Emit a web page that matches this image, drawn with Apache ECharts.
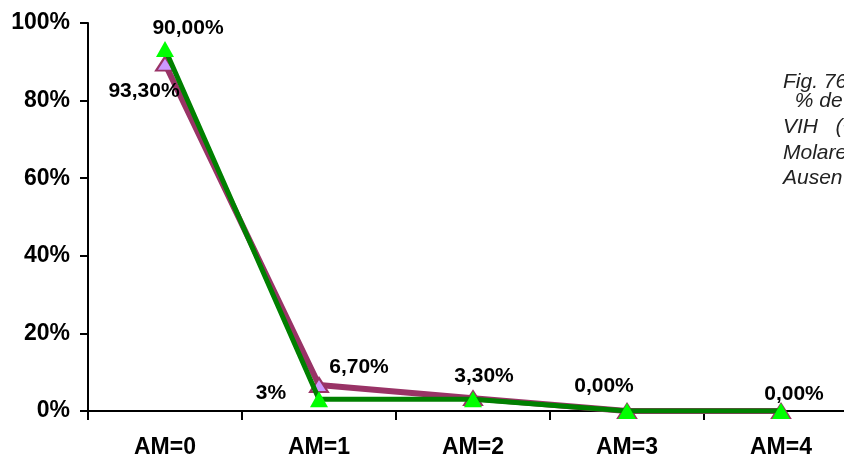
<!DOCTYPE html>
<html>
<head>
<meta charset="utf-8">
<script src="https://cdn.jsdelivr.net/npm/echarts@6/dist/echarts.min.js"></script>
<style>html,body{margin:0;padding:0;background:#fff;overflow:hidden;width:844px;height:459px}#c{width:860px;height:459px}</style>
</head>
<body>
<div id="c"></div>
<script>
var categories = ["AM=0", "AM=1", "AM=2", "AM=3", "AM=4"];
var purpleValues = [89.5, 6.7, 3.3, 0, 0];
var greenValues = [93.3, 3, 3, 0, 0];
var purpleLabels = ["93,30%", "6,70%", "3,30%", "", "0,00%"];
var greenLabels = ["90,00%", "3%", "", "0,00%", ""];
var yTicks = [0, 20, 40, 60, 80, 100];
var captionLines = ["Fig. 76", " % de", "VIH   (+", "Molares", "Ausen"];

// label offsets (layout only)
var purpleOffsets = [[-21, 27], [40, -18], [11, -22], [0, 0], [13, -17]];
var greenOffsets = [[23, -21], [-48, -6], [0, 0], [-23, -25], [0, 0]];

function build(values, labels, offsets) {
  return values.map(function (v, i) {
    return {
      value: v,
      label: {
        show: labels[i] !== "",
        position: "inside",
        offset: offsets[i],
        formatter: labels[i]
      }
    };
  });
}

var labelStyle = {
  color: "#000",
  fontFamily: "Liberation Sans, Arial, sans-serif",
  fontWeight: "bold",
  fontSize: 21,
  textBorderWidth: 0
};

var chart = echarts.init(document.getElementById("c"), null, {renderer: "canvas"});
var capY = [84, 103, 129, 155, 180];
var capX = [783, 789, 783, 783, 783];
chart.setOption({
  animation: false,
  backgroundColor: "#fff",
  grid: {left: 88, top: 23, bottom: 47, right: 2, containLabel: false},
  xAxis: {
    type: "category",
    data: categories,
    boundaryGap: true,
    axisLine: {lineStyle: {color: "#000", width: 2}},
    axisTick: {show: true, length: 9, lineStyle: {color: "#000", width: 2}},
    axisLabel: {
      color: "#000", fontFamily: "Liberation Sans, Arial, sans-serif",
      fontWeight: "bold", fontSize: 23, margin: 25
    },
    splitLine: {show: false}
  },
  yAxis: {
    type: "value",
    min: yTicks[0],
    max: yTicks[yTicks.length - 1],
    interval: 20,
    axisLine: {show: true, lineStyle: {color: "#000", width: 2}},
    axisTick: {show: true, length: 8, lineStyle: {color: "#000", width: 2}},
    axisLabel: {
      color: "#000", fontFamily: "Liberation Sans, Arial, sans-serif",
      fontWeight: "bold", fontSize: 23, margin: 18,
      formatter: "{value}%"
    },
    splitLine: {show: false}
  },
  series: [
    {
      type: "line",
      data: build(purpleValues, purpleLabels, purpleOffsets),
      lineStyle: {color: "#993366", width: 6},
      symbol: "triangle",
      symbolSize: [18, 14],
      itemStyle: {color: "#CC99FF", borderColor: "#993366", borderWidth: 2},
      label: labelStyle,
      z: 2
    },
    {
      type: "line",
      data: build(greenValues, greenLabels, greenOffsets),
      lineStyle: {color: "#008000", width: 5},
      symbol: "triangle",
      symbolSize: [18, 16],
      itemStyle: {color: "#00FF00", borderWidth: 0},
      label: labelStyle,
      z: 3
    }
  ],
  graphic: captionLines.map(function (t, i) {
    return {
      type: "text",
      left: capX[i],
      top: capY[i] - 12,
      style: {
        text: t,
        fill: "#222",
        font: "italic 21px 'Liberation Sans', Arial, sans-serif"
      }
    };
  })
});
</script>
</body>
</html>
